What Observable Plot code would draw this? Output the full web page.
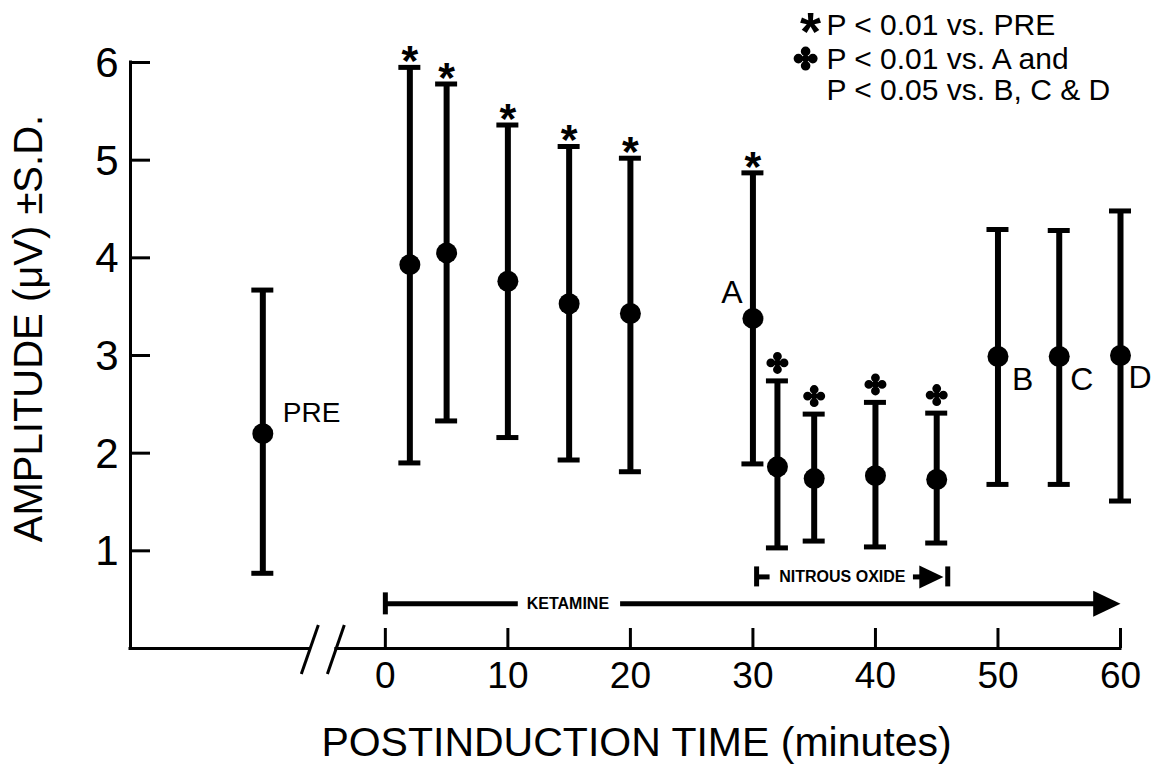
<!DOCTYPE html>
<html><head><meta charset="utf-8">
<script src="https://cdn.jsdelivr.net/npm/d3@7"></script>
<script src="https://cdn.jsdelivr.net/npm/@observablehq/plot@0.6"></script>
<style>body{margin:0;background:#fff;} svg{display:block}</style>
</head><body><div id="chart"></div>
<script>
// ---- data ----
const times  = [-10, 2, 5, 10, 15, 20, 30, 32, 35, 40, 45, 50, 55, 60];
const means  = [2.20, 3.93, 4.05, 3.76, 3.53, 3.43, 3.38, 1.86, 1.74, 1.77, 1.73, 2.99, 2.99, 3.00];
const upper  = [3.67, 5.95, 5.78, 5.36, 5.14, 5.02, 4.87, 2.74, 2.40, 2.52, 2.41, 4.29, 4.28, 4.48];
const lower  = [0.77, 1.90, 2.33, 2.16, 1.93, 1.81, 1.89, 1.03, 1.10, 1.04, 1.08, 1.68, 1.68, 1.51];
const signif = ["", "star", "star", "star", "star", "star", "star", "club", "club", "club", "club", "", "", ""];
const pointLabels = ["PRE", "", "", "", "", "", "A", "", "", "", "", "B", "C", "D"];
const xTicks = [0, 10, 20, 30, 40, 50, 60];
const yTicks = [1, 2, 3, 4, 5, 6];
const legendLines = ["P < 0.01 vs. PRE", "P < 0.01 vs. A and", "P < 0.05 vs. B, C & D"];

const data = times.map((t, i) => ({t, mean: means[i], hi: upper[i], lo: lower[i], sig: signif[i], label: pointLabels[i]}));

// ---- layout constants ----
const xMin = -20.8, xMax = 60;
const breakL = -6.2, breakR = -4.0;
const ketY = 0.457, nitY = 0.733;
const FONT = "Liberation Sans, Arial, Helvetica, sans-serif";

// custom symbols
const club = {draw(ctx, size) {
  const R = Math.sqrt(size / Math.PI);
  const d = 0.6 * R, r = 0.4 * R;
  for (const [cx, cy] of [[0, -d], [d, 0], [0, d], [-d, 0]]) {
    ctx.moveTo(cx + r, cy); ctx.arc(cx, cy, r, 0, 2 * Math.PI);
  }
  ctx.moveTo(0.3 * R, 0); ctx.arc(0, 0, 0.3 * R, 0, 2 * Math.PI);
}};
const arrowHead = {draw(ctx, size) {
  const R = Math.sqrt(size / Math.PI);
  ctx.moveTo(0, 0); ctx.lineTo(-2.1 * R, -R); ctx.lineTo(-2.1 * R, R); ctx.closePath();
}};

const labelSpec = {
  PRE: {dx: 20, dy: -21, anchor: "start", size: 28},
  A:   {dx: -21, dy: -26, anchor: "middle", size: 32},
  B:   {dx: 14, dy: 23, anchor: "start", size: 32},
  C:   {dx: 11, dy: 23, anchor: "start", size: 32},
  D:   {dx: 8, dy: 22, anchor: "start", size: 32}
};

const labelMarks = data.filter(d => d.label).map(d => {
  const s = labelSpec[d.label];
  return Plot.text([d], {x: "t", y: "mean", text: "label", dx: s.dx, dy: s.dy, textAnchor: s.anchor, fontSize: s.size, fill: "black"});
});

const chart = Plot.plot({
  width: 1155, height: 766,
  marginLeft: 130, marginRight: 35, marginTop: 62, marginBottom: 118,
  x: {domain: [xMin, xMax], axis: null},
  y: {domain: [0, 6], axis: null},
  style: {fontFamily: FONT, background: "white", color: "black"},
  marks: [
    // axes
    Plot.ruleX([xMin], {x: d => d, y1: 0, y2: 6, strokeWidth: 3, strokeLinecap: "square"}),
    Plot.ruleY([{a: xMin, b: breakL}, {a: breakR, b: xMax}], {y: 0, x1: "a", x2: "b", strokeWidth: 3, strokeLinecap: "square"}),
    Plot.ruleY(yTicks, {y: d => d, x1: xMin, x2: xMin, insetRight: -20, strokeWidth: 3}),
    Plot.ruleX(xTicks, {x: d => d, y1: 0, y2: 0, insetTop: -20, strokeWidth: 3}),
    Plot.link([{x1: -5.47, y1: 0.24, x2: -6.86, y2: -0.26}, {x1: -3.35, y1: 0.24, x2: -4.73, y2: -0.26}],
      {x1: "x1", y1: "y1", x2: "x2", y2: "y2", strokeWidth: 3}),
    Plot.text(xTicks, {x: d => d, y: 0, text: d => String(d), dy: 28, fontSize: 37}),
    Plot.text(yTicks, {x: xMin, y: d => d, text: d => String(d), textAnchor: "end", dx: -12, dy: 1, fontSize: 42}),
    Plot.text(["AMPLITUDE (μV) ±S.D."], {frameAnchor: "left", text: d => d, rotate: -90, textAnchor: "middle", lineAnchor: "middle", dx: -101, dy: -27, fontSize: 40}),
    Plot.text(["POSTINDUCTION TIME (minutes)"], {frameAnchor: "bottom", text: d => d, lineAnchor: "middle", dx: 11, dy: 94, fontSize: 41}),

    // error bars
    Plot.ruleX(data, {x: "t", y1: "lo", y2: "hi", strokeWidth: 6}),
    Plot.ruleY(data, {y: "hi", x1: "t", x2: "t", insetLeft: -11, insetRight: -11, strokeWidth: 5}),
    Plot.ruleY(data, {y: "lo", x1: "t", x2: "t", insetLeft: -11, insetRight: -11, strokeWidth: 5}),
    Plot.dot(data, {x: "t", y: "mean", r: 10.5, fill: "black", stroke: "none"}),

    // significance markers
    Plot.text(data.filter(d => d.sig === "star"), {x: "t", y: "hi", text: () => "*", fontSize: 43, fontWeight: "bold", dy: -6}),
    Plot.dot(data.filter(d => d.sig === "club"), {x: "t", y: "hi", symbol: club, r: 11, fill: "black", stroke: "none", dy: -18}),

    ...labelMarks,

    // KETAMINE arrow
    Plot.ruleX([0], {x: d => d, y1: ketY, y2: ketY, insetTop: -11, insetBottom: -11, strokeWidth: 5}),
    Plot.ruleY([{a: 0, b: 10.85}, {a: 19.2, b: 58.2}], {y: ketY, x1: "a", x2: "b", strokeWidth: 5}),
    Plot.text(["KETAMINE"], {x: 14.9, y: ketY, text: d => d, fontSize: 16, fontWeight: "bold"}),
    Plot.dot([60], {x: d => d, y: ketY, symbol: arrowHead, r: 13, fill: "black", stroke: "none"}),

    // NITROUS OXIDE arrow
    Plot.ruleX([30.3, 45.9], {x: d => d, y1: nitY, y2: nitY, insetTop: -10, insetBottom: -10, strokeWidth: 5}),
    Plot.ruleY([{a: 30.3, b: 31.4}, {a: 43.1, b: 44.5}], {y: nitY, x1: "a", x2: "b", strokeWidth: 5}),
    Plot.text(["NITROUS OXIDE"], {x: 37.3, y: nitY, text: d => d, fontSize: 16, fontWeight: "bold"}),
    Plot.dot([45.55], {x: d => d, y: nitY, symbol: arrowHead, r: 11.5, fill: "black", stroke: "none"}),

    // legend
    Plot.text(legendLines, {x: 36.0, y: (d, i) => [6.28, 5.935, 5.62][i], text: d => d, textAnchor: "start", lineAnchor: "bottom", fontSize: 30}),
    Plot.text(["*"], {x: 34.7, y: 6.3, text: d => d, fontSize: 54, fontWeight: "bold"}),
    Plot.dot([0], {x: 34.3, y: 6.04, symbol: club, r: 12, fill: "black", stroke: "none"})
  ]
});
document.getElementById("chart").appendChild(chart);
</script>
</body></html>
